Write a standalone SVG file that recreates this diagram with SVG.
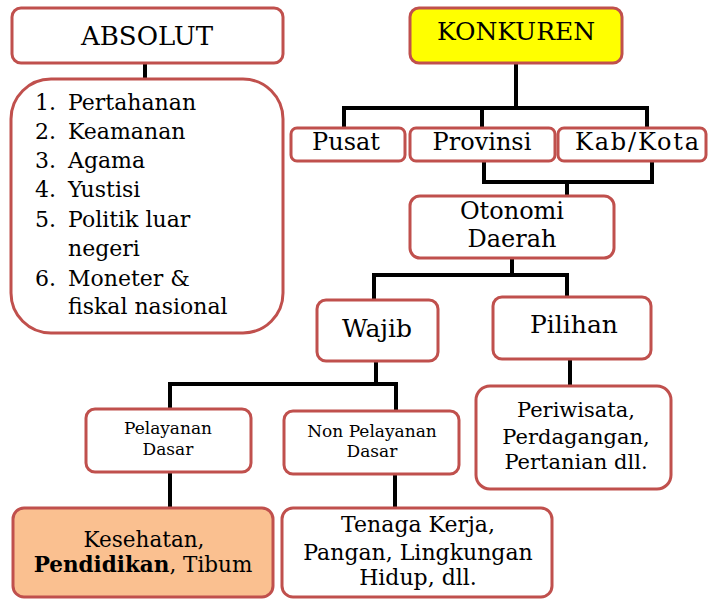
<svg xmlns="http://www.w3.org/2000/svg" width="709" height="600" viewBox="0 0 709 600">
<style>
.box{fill:#fff;stroke:#C0504D;stroke-width:3}
.t{font-family:"DejaVu Serif","Liberation Serif",serif;fill:#000}
.c{text-anchor:middle}
.conn{fill:none;stroke:#000;stroke-width:4;stroke-linejoin:miter}
</style>
<rect width="709" height="600" fill="#fff"/>
<g id="connectors" class="conn">
<path d="M145 63V79"/>
<path d="M516 63V108M344 108H647M344 106V129M482 108V129M647 106V129"/>
<path d="M484 161V182H652V161M567 182V196"/>
<path d="M512 258V275M374 275H567M374 273V300M567 273V297"/>
<path d="M570 359V386"/>
<path d="M376 361V384M170 384H396M170 382V409M396 382V411"/>
<path d="M170 472V508M395 474V508"/>
</g>
<g id="absolut"><rect class="box" x="12" y="8" width="271" height="55" rx="9"/><text class="t c" x="147" y="45" font-size="26">ABSOLUT</text></g>
<g id="absolut-list"><rect class="box" x="11" y="79" width="272" height="254" rx="40"/>
<g class="t" font-size="22">
<text x="35" y="110">1.</text><text x="68" y="110">Pertahanan</text>
<text x="35" y="139">2.</text><text x="68" y="139">Keamanan</text>
<text x="35" y="168">3.</text><text x="68" y="168">Agama</text>
<text x="35" y="197">4.</text><text x="68" y="197">Yustisi</text>
<text x="35" y="227">5.</text><text x="68" y="227">Politik luar</text>
<text x="68" y="256">negeri</text>
<text x="35" y="286">6.</text><text x="68" y="286">Moneter &amp;</text>
<text x="68" y="314">fiskal nasional</text>
</g></g>
<g id="konkuren"><rect x="410" y="8" width="212" height="55" rx="9" fill="#FFFF00" stroke="#C0504D" stroke-width="3"/><text class="t c" x="516" y="40" font-size="25">KONKUREN</text></g>
<g id="pusat"><rect class="box" x="291" y="128" width="114" height="33" rx="6"/><text class="t c" x="346" y="150" font-size="24">Pusat</text></g>
<g id="provinsi"><rect class="box" x="410" y="128" width="145" height="33" rx="6"/><text class="t c" x="482" y="150" font-size="24">Provinsi</text></g>
<g id="kabkota"><rect class="box" x="558" y="128" width="148" height="33" rx="6"/><text class="t c" x="637" y="150" font-size="24" textLength="124">Kab/Kota</text></g>
<g id="otonomi"><rect class="box" x="410" y="196" width="204" height="62" rx="10"/><text class="t c" x="512" y="219" font-size="24">Otonomi</text><text class="t c" x="512" y="247" font-size="24">Daerah</text></g>
<g id="wajib"><rect class="box" x="317" y="300" width="121" height="61" rx="9"/><text class="t c" x="377" y="337" font-size="25">Wajib</text></g>
<g id="pilihan"><rect class="box" x="493" y="297" width="158" height="62" rx="9"/><text class="t c" x="574" y="333" font-size="25">Pilihan</text></g>
<g id="pilihan-list"><rect class="box" x="476" y="386" width="195" height="103" rx="14"/>
<text class="t c" x="576" y="417" font-size="21">Periwisata,</text><text class="t c" x="576" y="444" font-size="21">Perdagangan,</text><text class="t c" x="576" y="469" font-size="21">Pertanian dll.</text></g>
<g id="pelayanan"><rect class="box" x="86" y="409" width="165" height="63" rx="9"/><text class="t c" x="168" y="434" font-size="17">Pelayanan</text><text class="t c" x="168" y="455" font-size="17">Dasar</text></g>
<g id="nonpelayanan"><rect class="box" x="284" y="411" width="175" height="63" rx="9"/><text class="t c" x="372" y="437" font-size="17">Non Pelayanan</text><text class="t c" x="372" y="457" font-size="17">Dasar</text></g>
<g id="kesehatan"><rect x="13" y="508" width="260" height="89" rx="11" fill="#FAC090" stroke="#C0504D" stroke-width="3"/>
<text class="t c" x="144" y="547" font-size="21.5">Kesehatan,</text><text class="t c" x="143" y="572" font-size="21.5"><tspan font-weight="bold">Pendidikan</tspan>, Tibum</text></g>
<g id="tenaga"><rect class="box" x="282" y="508" width="270" height="89" rx="11"/>
<text class="t c" x="418" y="532" font-size="22">Tenaga Kerja,</text><text class="t c" x="418" y="560" font-size="22">Pangan, Lingkungan</text><text class="t c" x="418" y="585" font-size="22">Hidup, dll.</text></g>
</svg>
